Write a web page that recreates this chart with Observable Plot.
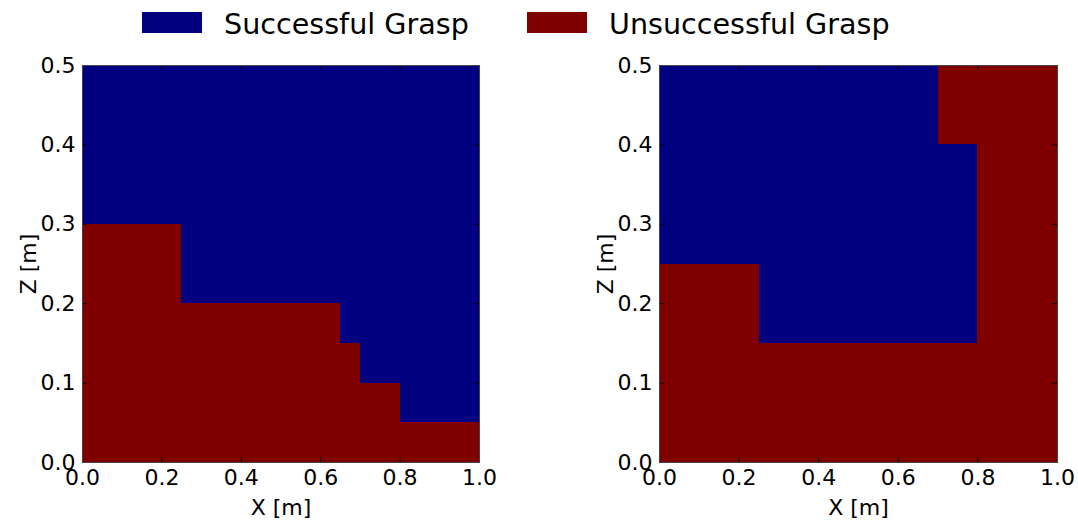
<!DOCTYPE html>
<html><head><meta charset="utf-8">
<script src="https://cdn.jsdelivr.net/npm/d3@7"></script>
<script src="https://cdn.jsdelivr.net/npm/@observablehq/plot@0.6"></script>
<style>
body{margin:0;background:#fff;font-family:"DejaVu Sans",sans-serif;}
#wrap{position:relative;width:1078px;height:523px;overflow:hidden}
.sw{position:absolute;top:12px;width:60px;height:21px;}
.lt{position:absolute;top:10px;font-size:28.6px;line-height:28px;white-space:nowrap;color:#000}
.panel{position:absolute;top:48px}
</style></head>
<body><div id="wrap"></div>
<script>
const outcomes = ["Successful Grasp", "Unsuccessful Grasp"];
const colors = ["#000080", "#800000"];
const xTicks = [0, 0.2, 0.4, 0.6, 0.8, 1.0];
const zTicks = [0, 0.1, 0.2, 0.3, 0.4, 0.5];

// Left panel: columns, unsuccessful below failTop, successful above
const leftColX1 = [0, 0.25, 0.65, 0.7, 0.8];
const leftColX2 = [0.25, 0.65, 0.7, 0.8, 1.0];
const leftFailTop = [0.3, 0.2, 0.15, 0.1, 0.05];

// Right panel: rectangles
const rightX1 = [0, 0.25, 0.7, 0.7, 0.8, 0, 0.25, 0.7];
const rightX2 = [0.25, 0.7, 0.8, 0.8, 1.0, 0.25, 0.7, 0.8];
const rightZ1 = [0, 0, 0, 0.4, 0, 0.25, 0.15, 0.15];
const rightZ2 = [0.25, 0.15, 0.15, 0.5, 0.5, 0.5, 0.5, 0.4];
const rightOutcome = [1, 1, 1, 1, 1, 0, 0, 0];

const zMax = 0.5;
const leftCells = [];
leftColX1.forEach((x1, i) => {
  leftCells.push({x1, x2: leftColX2[i], z1: 0, z2: leftFailTop[i], outcome: outcomes[1]});
  leftCells.push({x1, x2: leftColX2[i], z1: leftFailTop[i], z2: zMax, outcome: outcomes[0]});
});
const rightCells = rightX1.map((x1, i) => ({x1, x2: rightX2[i], z1: rightZ1[i], z2: rightZ2[i], outcome: outcomes[rightOutcome[i]]}));

const wrap = document.getElementById("wrap");

// Legend
const legendPos = [{sw: 142, tx: 224}, {sw: 527, tx: 609}];
outcomes.forEach((o, i) => {
  const s = document.createElement("div");
  s.className = "sw"; s.style.left = legendPos[i].sw + "px"; s.style.background = colors[i];
  wrap.appendChild(s);
  const t = document.createElement("div");
  t.className = "lt"; t.style.left = legendPos[i].tx + "px"; t.textContent = o;
  wrap.appendChild(t);
});

function panel(cells, left, mLeft, mRight) {
  const H = 473, mTop = 17, mBottom = 59;
  const fh = H - mTop - mBottom;
  const fw = 539 - mLeft - mRight;
  const fmt = d3.format(".1f");
  const chart = Plot.plot({
    width: 539, height: H,
    marginLeft: mLeft, marginRight: mRight, marginTop: mTop, marginBottom: mBottom,
    style: {fontFamily: "DejaVu Sans", fontSize: "22px", color: "#000", background: "transparent", overflow: "visible"},
    x: {domain: [0, 1]},
    y: {domain: [0, zMax]},
    color: {domain: outcomes, range: colors},
    marks: [
      Plot.rect(cells, {x1: "x1", x2: "x2", y1: "z1", y2: "z2", fill: "outcome", inset: 0, shapeRendering: "crispEdges"}),
      Plot.ruleX(xTicks, {insetTop: fh - 5, stroke: "#000"}),
      Plot.ruleX(xTicks, {insetBottom: fh - 5, stroke: "#000"}),
      Plot.ruleY(zTicks, {insetRight: fw - 5, stroke: "#000"}),
      Plot.ruleY(zTicks, {insetLeft: fw - 5, stroke: "#000"}),
      Plot.frame({stroke: "#444"}),
      Plot.axisX({ticks: xTicks, tickFormat: fmt, tickSize: 0, tickPadding: 7, label: "X [m]", labelAnchor: "center", labelArrow: "none", labelOffset: 52}),
      Plot.axisY({ticks: zTicks, tickFormat: fmt, tickSize: 0, tickPadding: 7, label: "Z [m]", labelAnchor: "center", labelArrow: "none", labelOffset: 62})
    ]
  });
  const d = document.createElement("div");
  d.className = "panel"; d.style.left = left + "px";
  d.appendChild(chart);
  wrap.appendChild(d);
}
panel(leftCells, 0, 82, 60);
panel(rightCells, 539, 120, 21);
</script></body></html>
